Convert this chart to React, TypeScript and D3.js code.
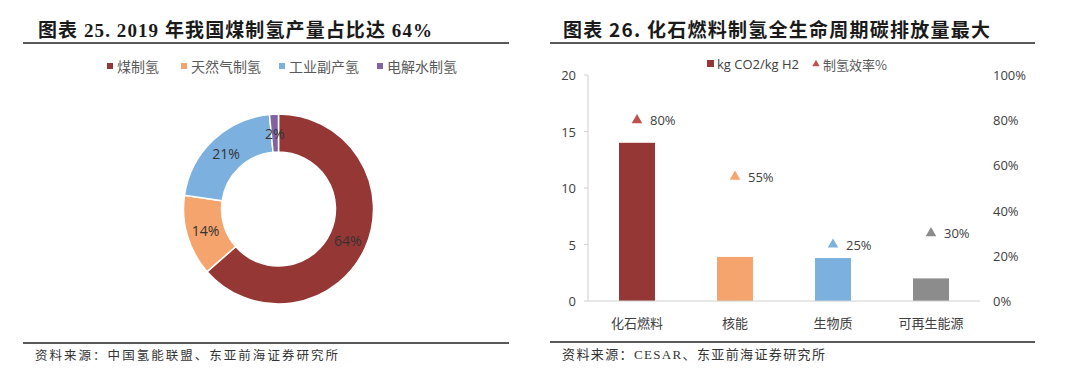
import React from 'react';
import * as d3 from 'd3';

// ---------- data ----------
const pieCategories = ['煤制氢', '天然气制氢', '工业副产氢', '电解水制氢'];
const pieValues = [63.54, 13.76, 21.18, 1.52];
const pieLabels = ['64%', '14%', '21%', '2%'];

const barCategories = ['化石燃料', '核能', '生物质', '可再生能源'];
const co2Values = [14, 3.9, 3.8, 2];
const efficiencyValues = [0.8, 0.55, 0.25, 0.3];
const efficiencyLabels = ['80%', '55%', '25%', '30%'];
const leftTicks = [0, 5, 10, 15, 20];
const rightTicks = [0, 0.2, 0.4, 0.6, 0.8, 1];

// ---------- styles ----------
const pieColors = ['#953735', '#F4A46C', '#7CB0DF', '#8064A2'];
const barColors = ['#953735', '#F4A46C', '#7CB0DF', '#8C8C8C'];
const triColors = ['#C0504D', '#F4A46C', '#7CB0DF', '#8C8C8C'];
const CJK = '"Noto Sans CJK SC", "Noto Sans", sans-serif';
const NUM = '"Open Sans", "Noto Sans CJK SC", sans-serif';
const SERIF = '"Liberation Serif", "Noto Sans CJK SC", serif';
const legendX = [107, 181, 279, 377];

export default function App() {
  // donut
  const cx = 278.5, cy = 209;
  const pie = d3.pie<number>().sort(null).value((d) => d)(pieValues);
  const arc = d3.arc<d3.PieArcDatum<number>>().innerRadius(57).outerRadius(95);

  // bar chart
  const x = d3.scaleBand<string>().domain(barCategories).range([588, 980]).paddingInner(0).paddingOuter(0);
  const yL = d3.scaleLinear().domain([0, 20]).range([301, 75]);
  const yR = d3.scaleLinear().domain([0, 1]).range([301, 75]);
  const barW = 36;
  const tri = d3.symbol().type(d3.symbolTriangle).size(48);

  return (
    <svg width={1080} height={376} style={{ position: 'absolute', left: 0, top: 0, background: '#fff' }}>
      <rect width={1080} height={376} fill="#fff" />
      {/* ===== Left panel ===== */}
      <text x={38} y={37} fontFamily={SERIF} fontWeight="bold" fontSize={19} fill="#1a1a1a" textLength={394} lengthAdjust="spacing">
        图表 25. 2019 年我国煤制氢产量占比达 64%
      </text>
      <line x1={23} x2={509} y1={43} y2={43} stroke="#222" strokeWidth={1.5} />

      {pieCategories.map((c, i) => (
        <g key={c}>
          <rect x={legendX[i]} y={63} width={6} height={6} fill={pieColors[i]} />
          <text x={legendX[i] + 10} y={66} dominantBaseline="central" fontFamily={CJK} fontSize={14} fill="#595959">
            {c}
          </text>
        </g>
      ))}

      <g transform={`translate(${cx},${cy})`}>
        {pie.map((p, i) => (
          <path key={i} d={arc(p) || ''} fill={pieColors[i]} stroke="#fff" strokeWidth={1.5} />
        ))}
        {pie.map((p, i) => {
          const [lx, ly] = arc.centroid(p);
          return (
            <text key={'l' + i} x={lx} y={ly} textAnchor="middle" dominantBaseline="central" fontFamily={NUM} fontSize={14} fill="#333">
              {pieLabels[i]}
            </text>
          );
        })}
      </g>

      <line x1={23} x2={509} y1={343} y2={343} stroke="#222" strokeWidth={1.5} />
      <text x={35} y={354} dominantBaseline="central" fontFamily={CJK} fontSize={12.5} fill="#333" textLength={303} lengthAdjust="spacing">
        资料来源：中国氢能联盟、东亚前海证券研究所
      </text>

      {/* ===== Right panel ===== */}
      <text x={563} y={37} fontFamily={CJK} fontWeight="bold" fontSize={19} fill="#1a1a1a" textLength={427} lengthAdjust="spacing">
        图表 26. 化石燃料制氢全生命周期碳排放量最大
      </text>
      <line x1={550} x2={1035} y1={43} y2={43} stroke="#222" strokeWidth={1.5} />

      {/* legend */}
      <rect x={707} y={60} width={7} height={7} fill={barColors[0]} />
      <text x={717} y={64} dominantBaseline="central" fontFamily={NUM} fontSize={13} fill="#404040">kg CO2/kg H2</text>
      <path d={tri() || ''} transform="translate(816,64) scale(0.7)" fill={triColors[0]} />
      <text x={823} y={64} dominantBaseline="central" fontFamily={CJK} fontSize={13} fill="#595959">制氢效率%</text>

      {/* left axis */}
      <line x1={588} x2={588} y1={yL(20)} y2={yL(0)} stroke="#D0D0D0" strokeWidth={1} />
      {leftTicks.map((t) => (
        <g key={t}>
          <line x1={584} x2={588} y1={yL(t)} y2={yL(t)} stroke="#D0D0D0" />
          <text x={576} y={yL(t)} textAnchor="end" dominantBaseline="central" fontFamily={NUM} fontSize={13} fill="#404040">
            {t}
          </text>
        </g>
      ))}
      {/* right axis labels */}
      {rightTicks.map((t) => (
        <text key={t} x={993} y={yR(t)} dominantBaseline="central" fontFamily={NUM} fontSize={13} fill="#404040">
          {d3.format('.0%')(t)}
        </text>
      ))}

      {/* bars */}
      {barCategories.map((c, i) => {
        const bx = (x(c) as number) + x.bandwidth() / 2;
        return (
          <rect key={c} x={bx - barW / 2} y={yL(co2Values[i])} width={barW} height={yL(0) - yL(co2Values[i])} fill={barColors[i]} />
        );
      })}
      <line x1={588} x2={980} y1={yL(0)} y2={yL(0)} stroke="#D0D0D0" strokeWidth={1} />

      {/* triangles */}
      {barCategories.map((c, i) => {
        const bx = (x(c) as number) + x.bandwidth() / 2;
        const ty = yR(efficiencyValues[i]);
        return (
          <g key={'t' + c}>
            <path d={tri() || ''} transform={`translate(${bx},${ty})`} fill={triColors[i]} />
            <text x={bx + 13} y={ty} dominantBaseline="central" fontFamily={NUM} fontSize={13} fill="#404040">
              {efficiencyLabels[i]}
            </text>
          </g>
        );
      })}

      {/* categories */}
      {barCategories.map((c) => (
        <text key={'c' + c} x={(x(c) as number) + x.bandwidth() / 2} y={322} textAnchor="middle" dominantBaseline="central" fontFamily={CJK} fontSize={13} fill="#404040">
          {c}
        </text>
      ))}

      <line x1={550} x2={1035} y1={342} y2={342} stroke="#222" strokeWidth={1.5} />
      <text x={562} y={354} dominantBaseline="central" fontFamily={SERIF} fontSize={13} fill="#333" textLength={263} lengthAdjust="spacing">
        资料来源：CESAR、东亚前海证券研究所
      </text>
    </svg>
  );
}
